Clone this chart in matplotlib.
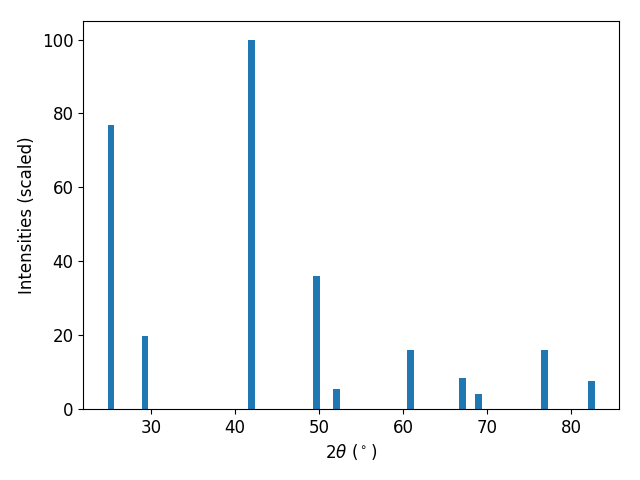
import matplotlib

matplotlib.use("Agg")
import matplotlib.pyplot as plt  # noqa: E402

two_theta = [25.24, 29.29, 41.93, 49.67, 52.05, 60.9, 67.05, 69.0, 76.8, 82.38]
intensity = [76.9, 19.7, 100.0, 36.0, 5.3, 15.9, 8.3, 4.0, 15.9, 7.5]

fig, ax = plt.subplots(figsize=(6.4, 4.8), dpi=100)
ax.bar(two_theta, intensity, width=0.8)
ax.set_xlabel(r"$2\theta$ ($^\circ$)", fontsize=12)
ax.set_ylabel("Intensities (scaled)", fontsize=12)
ax.tick_params(labelsize=12)
fig.subplots_adjust(left=0.130, right=0.967, top=0.956, bottom=0.148)
plt.savefig("out.png", dpi=100)
plt.close()
